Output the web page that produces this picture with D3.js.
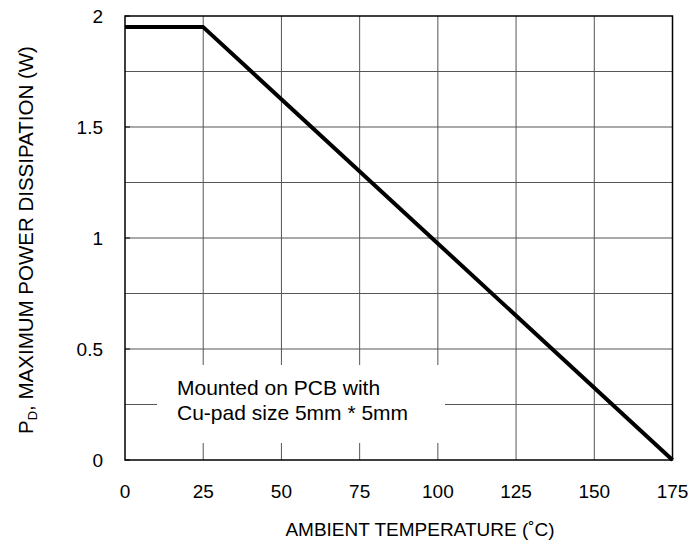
<!DOCTYPE html>
<html>
<head>
<meta charset="utf-8">
<script src="https://cdn.jsdelivr.net/npm/d3@7"></script>
<style>
  body { margin: 0; background: #fff; }
  text { font-family: "Liberation Sans", Arial, sans-serif; fill: #000; }
</style>
</head>
<body>
<div id="chart"></div>
<script>
// derating curve
const temps = [0, 25, 175];
const power = [1.95, 1.95, 0];
const xTicks = [0, 25, 50, 75, 100, 125, 150, 175];
const yTicks = [0, 0.5, 1, 1.5, 2];
const yGrid = [0.25, 0.5, 0.75, 1, 1.25, 1.5, 1.75];
const noteLines = ['Mounted on PCB with', 'Cu-pad size 5mm * 5mm'];

const width = 692, height = 544;
const margin = { top: 16, right: 19.5, bottom: 84, left: 125 };

const svg = d3.select('#chart').append('svg')
    .attr('width', width)
    .attr('height', height);

const x = d3.scaleLinear().domain([0, 175]).range([margin.left, width - margin.right]);
const y = d3.scaleLinear().domain([0, 2]).range([height - margin.bottom, margin.top]);

// grid
svg.append('g')
    .selectAll('line')
    .data(xTicks.slice(1, -1))
    .join('line')
    .attr('x1', d => x(d)).attr('x2', d => x(d))
    .attr('y1', y(0)).attr('y2', y(2))
    .attr('stroke', '#555').attr('stroke-width', 1);

svg.append('g')
    .selectAll('line')
    .data(yGrid)
    .join('line')
    .attr('x1', x(0)).attr('x2', x(175))
    .attr('y1', d => y(d)).attr('y2', d => y(d))
    .attr('stroke', '#555').attr('stroke-width', 1);

// short ticks inside the left axis
svg.append('g')
    .selectAll('line')
    .data(yTicks)
    .join('line')
    .attr('x1', x(0)).attr('x2', x(0) + 5)
    .attr('y1', d => y(d)).attr('y2', d => y(d))
    .attr('stroke', '#000').attr('stroke-width', 1);

// note box covers the grid
svg.append('rect')
    .attr('x', 157).attr('y', 365)
    .attr('width', 288).attr('height', 78)
    .attr('fill', '#fff');

svg.append('text')
    .attr('x', 177).attr('y', 395)
    .style('font-size', '21px')
    .selectAll('tspan')
    .data(noteLines)
    .join('tspan')
    .attr('x', 177)
    .attr('dy', (d, i) => i === 0 ? 0 : 25)
    .text(d => d);

// frame
svg.append('rect')
    .attr('x', x(0)).attr('y', y(2))
    .attr('width', x(175) - x(0)).attr('height', y(0) - y(2))
    .attr('fill', 'none')
    .attr('stroke', '#000').attr('stroke-width', 1.5);

// curve
const line = d3.line().x(d => x(d[0])).y(d => y(d[1]));
svg.append('path')
    .datum(temps.map((t, i) => [t, power[i]]))
    .attr('d', line)
    .attr('fill', 'none')
    .attr('stroke', '#000')
    .attr('stroke-width', 4)
    .attr('stroke-linejoin', 'round');

// tick labels
svg.append('g')
    .selectAll('text')
    .data(xTicks)
    .join('text')
    .attr('x', d => x(d))
    .attr('y', 498)
    .attr('text-anchor', 'middle')
    .style('font-size', '19px')
    .text(d => d);

svg.append('g')
    .selectAll('text')
    .data(yTicks)
    .join('text')
    .attr('x', 103)
    .attr('y', d => y(d) + 7)
    .attr('text-anchor', 'end')
    .style('font-size', '19px')
    .text(d => d);

// axis titles
svg.append('text')
    .attr('x', 420)
    .attr('y', 536)
    .attr('text-anchor', 'middle')
    .style('font-size', '19px')
    .text('AMBIENT TEMPERATURE (˚C)');

const yTitle = svg.append('text')
    .attr('transform', 'translate(33,240) rotate(-90)')
    .attr('text-anchor', 'middle')
    .style('font-size', '20.5px');
yTitle.append('tspan').text('P');
yTitle.append('tspan').attr('dy', 4).style('font-size', '13px').text('D');
yTitle.append('tspan').attr('dy', -4).text(', MAXIMUM POWER DISSIPATION (W)');
</script>
</body>
</html>
